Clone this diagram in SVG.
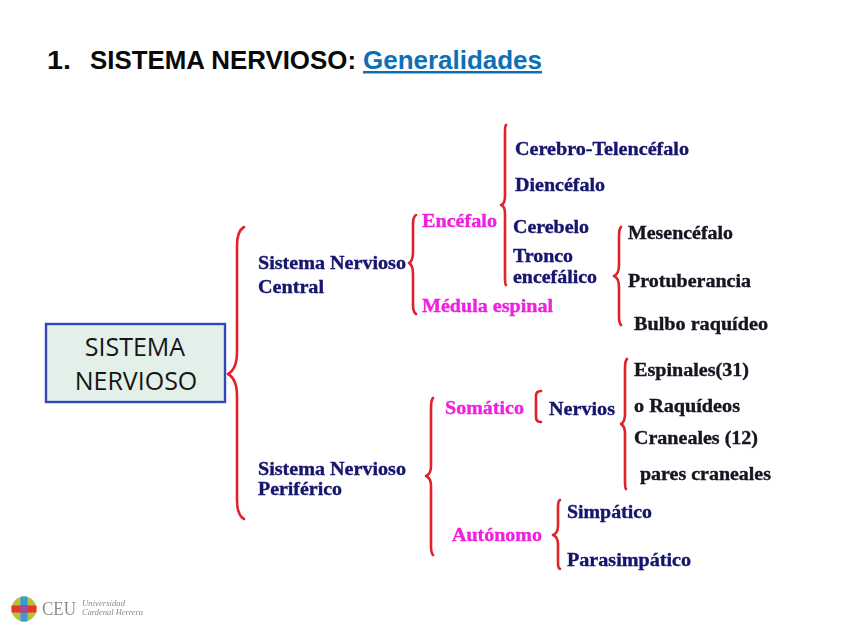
<svg xmlns="http://www.w3.org/2000/svg" width="848" height="636" viewBox="0 0 848 636">
<defs><filter id="soft" x="-5%" y="-5%" width="110%" height="110%"><feGaussianBlur stdDeviation="0.45"/></filter></defs>
<style>
text{font-family:"Liberation Serif","Times New Roman",serif;font-weight:700;font-size:18px}
.n{fill:#14146e;stroke:#14146e;stroke-width:.35}
.k{fill:#14141e;stroke:#14141e;stroke-width:.35}
.m{fill:#f020e0;stroke:#f020e0;stroke-width:.35}
.b{fill:none;stroke:#e2202a;stroke-width:2.6;stroke-linecap:round;stroke-linejoin:round}
.t{font-family:"Liberation Sans",Arial,sans-serif;font-size:25px;fill:#0a0a0a}
.c{font-family:"Open Sans","Noto Sans",sans-serif;font-weight:400;font-size:25px;fill:#161616;text-anchor:middle}
.u{font-weight:400;font-style:italic;font-size:7.5px;fill:#8a8a8a}
</style>
<rect width="848" height="636" fill="#ffffff"/>
<g id="title">
<text class="t" x="47" y="69" textLength="24" lengthAdjust="spacingAndGlyphs">1.</text>
<text class="t" x="90" y="69" textLength="266" lengthAdjust="spacingAndGlyphs">SISTEMA NERVIOSO:</text>
<text class="t" x="363" y="69" textLength="179" lengthAdjust="spacingAndGlyphs" style="fill:#0b70b8" text-decoration="underline">Generalidades</text>
</g>
<g id="connectors" filter="url(#soft)">
<path class="b" d="M244 227Q237 231 237 246L237 352Q237 369 228 374Q237 379 237 396L237 500Q237 515 244 519"/>
<path class="b" d="M416 215Q413 217 413 224L413 252Q413 261 409 263Q413 265 413 274L413 305Q413 312 416 314"/>
<path class="b" d="M506 125Q505 126 505 132L505 196Q505 204 501 205Q505 206 505 214L505 278Q505 284 506 285"/>
<path class="b" d="M621 227Q619 229 619 236L619 265Q619 274 614 276Q619 278 619 287L619 317Q619 323 621 325"/>
<path class="b" d="M433 398Q431 400 431 408L431 466Q431 474 426 476Q431 478 431 486L431 546Q431 553 433 555"/>
<path class="b" d="M541 391Q536 391 536 396L536 417Q536 422 541 422"/>
<path class="b" d="M627 359Q625 361 625 368L625 414Q625 422 621 424Q625 426 625 434L625 482Q625 488 626 489"/>
<path class="b" d="M560 500Q558 501 558 507L558 526Q558 533 553 535Q558 537 558 544L558 563Q558 568 560 569"/>
</g>
<g id="sistema-nervioso"><rect x="46" y="324" width="179" height="78" fill="#e2f0e9" stroke="#3448b8" stroke-width="2.4"/>
<text class="c" x="135" y="356">SISTEMA</text><text class="c" x="136" y="390">NERVIOSO</text></g>
<g id="snc" filter="url(#soft)"><text class="n" x="258" y="269" textLength="148" lengthAdjust="spacingAndGlyphs">Sistema Nervioso</text><text class="n" x="258" y="293" textLength="66" lengthAdjust="spacingAndGlyphs">Central</text></g>
<g id="snp" filter="url(#soft)"><text class="n" x="258" y="475" textLength="148" lengthAdjust="spacingAndGlyphs">Sistema Nervioso</text><text class="n" x="258" y="495" textLength="84" lengthAdjust="spacingAndGlyphs">Periférico</text></g>
<g id="encefalo" filter="url(#soft)"><text class="m" x="422" y="227" textLength="75" lengthAdjust="spacingAndGlyphs">Encéfalo</text></g>
<g id="medula" filter="url(#soft)"><text class="m" x="422" y="312" textLength="131" lengthAdjust="spacingAndGlyphs">Médula espinal</text></g>
<g id="cerebro" filter="url(#soft)"><text class="n" x="515" y="155" textLength="174" lengthAdjust="spacingAndGlyphs">Cerebro-Telencéfalo</text></g>
<g id="diencefalo" filter="url(#soft)"><text class="n" x="515" y="191" textLength="90" lengthAdjust="spacingAndGlyphs">Diencéfalo</text></g>
<g id="cerebelo" filter="url(#soft)"><text class="n" x="513" y="233" textLength="76" lengthAdjust="spacingAndGlyphs">Cerebelo</text></g>
<g id="tronco" filter="url(#soft)"><text class="n" x="513" y="262" textLength="60" lengthAdjust="spacingAndGlyphs">Tronco</text><text class="n" x="513" y="283" textLength="84" lengthAdjust="spacingAndGlyphs">encefálico</text></g>
<g id="mesencefalo" filter="url(#soft)"><text class="k" x="628" y="239" textLength="105" lengthAdjust="spacingAndGlyphs">Mesencéfalo</text></g>
<g id="protuberancia" filter="url(#soft)"><text class="k" x="628" y="287" textLength="123" lengthAdjust="spacingAndGlyphs">Protuberancia</text></g>
<g id="bulbo" filter="url(#soft)"><text class="k" x="634" y="330" textLength="134" lengthAdjust="spacingAndGlyphs">Bulbo raquídeo</text></g>
<g id="somatico" filter="url(#soft)"><text class="m" x="445" y="414" textLength="79" lengthAdjust="spacingAndGlyphs">Somático</text></g>
<g id="nervios" filter="url(#soft)"><text class="n" x="549" y="415" textLength="66" lengthAdjust="spacingAndGlyphs">Nervios</text></g>
<g id="espinales" filter="url(#soft)"><text class="k" x="634" y="376" textLength="115" lengthAdjust="spacingAndGlyphs">Espinales(31)</text><text class="k" x="634" y="412" textLength="106" lengthAdjust="spacingAndGlyphs">o Raquídeos</text></g>
<g id="craneales" filter="url(#soft)"><text class="k" x="634" y="444" textLength="124" lengthAdjust="spacingAndGlyphs">Craneales (12)</text><text class="k" x="640" y="480" textLength="131" lengthAdjust="spacingAndGlyphs">pares craneales</text></g>
<g id="autonomo" filter="url(#soft)"><text class="m" x="452" y="541" textLength="90" lengthAdjust="spacingAndGlyphs">Autónomo</text></g>
<g id="simpatico" filter="url(#soft)"><text class="n" x="567" y="518" textLength="85" lengthAdjust="spacingAndGlyphs">Simpático</text></g>
<g id="parasimpatico" filter="url(#soft)"><text class="n" x="567" y="566" textLength="124" lengthAdjust="spacingAndGlyphs">Parasimpático</text></g>
<g id="logo" filter="url(#soft)">
<circle cx="24" cy="609" r="12.5" fill="#b4c23c"/>
<rect x="20.5" y="596.5" width="7" height="25" fill="#3a9ad8"/>
<rect x="11.5" y="605.5" width="25" height="7" fill="#e8342a"/>
<rect x="20.5" y="605.5" width="7" height="7" fill="#a0509a"/>
<text x="42" y="615" textLength="34" lengthAdjust="spacingAndGlyphs" style="font-weight:400;font-size:18px;fill:#8c8c8c">CEU</text>
<text class="u" x="82" y="606" textLength="43" lengthAdjust="spacingAndGlyphs">Universidad</text>
<text class="u" x="82" y="615" textLength="61" lengthAdjust="spacingAndGlyphs">Cardenal Herrera</text>
</g>
</svg>
